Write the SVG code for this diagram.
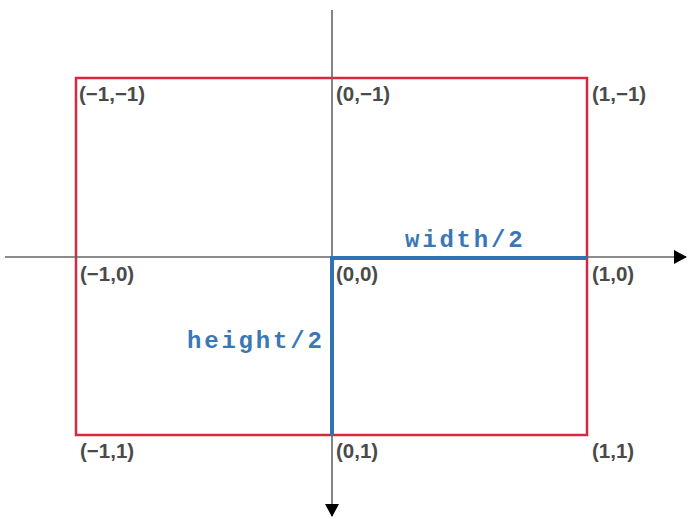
<svg xmlns="http://www.w3.org/2000/svg" width="689" height="519" viewBox="0 0 689 519">
<style>
.lbl{font-family:"Liberation Sans",Arial,sans-serif;font-size:20.5px;font-weight:bold;fill:#4a4a4a}
.code{font-family:"Liberation Mono","Courier New",monospace;font-size:24px;font-weight:bold;fill:#3a78b5;letter-spacing:2.8px}
.axis{stroke:#666;stroke-width:1.6;fill:none}
.blue{stroke:#2f73b4;stroke-width:4;fill:none}
</style>
<defs>
<marker id="ah" markerWidth="14" markerHeight="14" refX="12" refY="7" orient="auto" markerUnits="userSpaceOnUse">
<path d="M0,0 L13,7 L0,14 Z" fill="#000"/>
</marker>
</defs>
<rect width="689" height="519" fill="#fff"/>
<g id="rect">
<rect x="76" y="78" width="511" height="357" fill="none" stroke="#d8283f" stroke-width="2.5"/>
</g>
<g id="connectors">
<line class="axis" x1="5" y1="257" x2="686" y2="257" marker-end="url(#ah)"/>
<line class="axis" x1="332" y1="10" x2="332" y2="516" marker-end="url(#ah)"/>
<polyline class="blue" points="587,258 332,258 332,435"/>
</g>
<g id="labels">
<text class="lbl" x="79" y="101">(−1,−1)</text>
<text class="lbl" x="336" y="101">(0,−1)</text>
<text class="lbl" x="592" y="101">(1,−1)</text>
<text class="lbl" x="80" y="281">(−1,0)</text>
<text class="lbl" x="336" y="281">(0,0)</text>
<text class="lbl" x="592" y="281">(1,0)</text>
<text class="lbl" x="80" y="458">(−1,1)</text>
<text class="lbl" x="336" y="458">(0,1)</text>
<text class="lbl" x="592" y="458">(1,1)</text>
<text class="code" x="405" y="247">width/2</text>
<text class="code" x="187" y="348">height/2</text>
</g>
</svg>
